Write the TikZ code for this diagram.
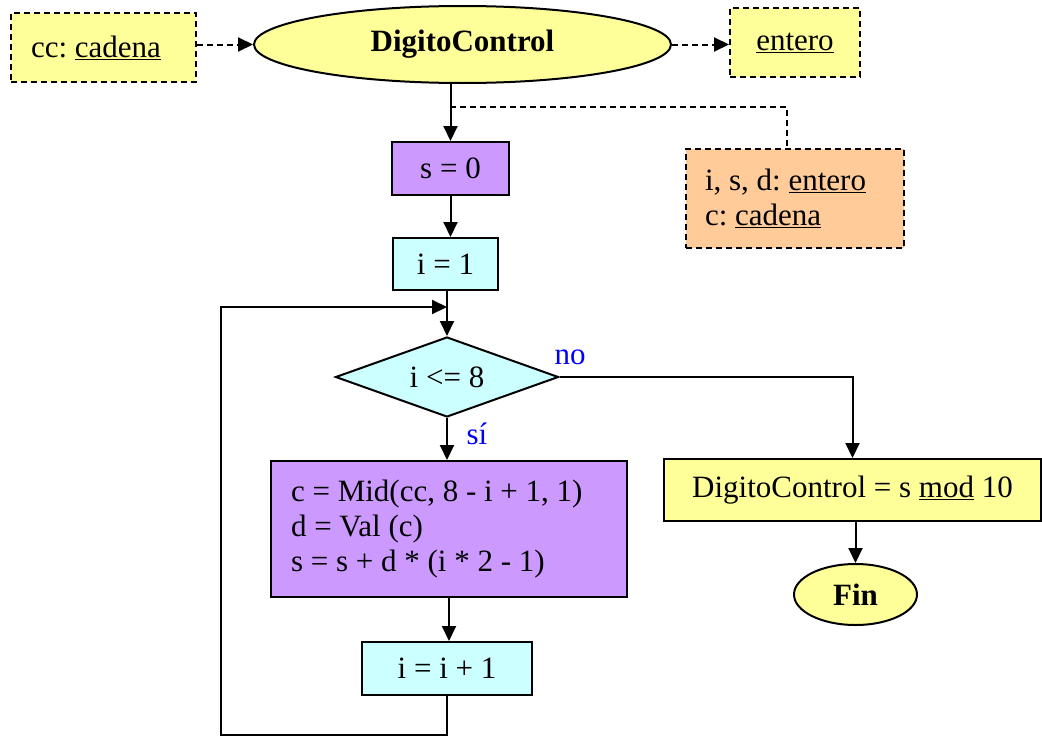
\documentclass[tikz,border=0pt]{standalone}
\usepackage{fontspec}
\setmainfont{Liberation Serif}
\usetikzlibrary{shapes.geometric,arrows.meta}
\definecolor{cyel}{HTML}{FFFF99}
\definecolor{cpur}{HTML}{CC99FF}
\definecolor{ccya}{HTML}{CCFFFF}
\definecolor{cora}{HTML}{FFCC99}
\definecolor{cblu}{HTML}{0000FF}
\newcommand{\natsp}{\spaceskip=0pt\xspaceskip=0pt\relax}
\tikzset{
  every node/.style={font=\fontsize{31}{35}\selectfont},
  base/.style={draw, line width=2pt, inner sep=0pt},
  procbox/.style={base, rectangle},
  dashbox/.style={base, rectangle, dash pattern=on 6pt off 4pt},
  term/.style={base, ellipse, fill=cyel, font=\fontsize{31}{35}\selectfont\bfseries},
  decis/.style={base, diamond, aspect=2.8, fill=ccya},
  flow/.style={line width=2pt, -{Triangle[length=15pt,width=14pt]}},
  dflow/.style={line width=2pt, dash pattern=on 6pt off 4pt, -{Triangle[length=15pt,width=14pt]}},
  dplain/.style={line width=2pt, dash pattern=on 6pt off 4pt},
  lbl/.style={text=cblu, anchor=base, inner sep=0pt},
}
\begin{document}
\frenchspacing
\begin{tikzpicture}[x=1pt,y=-1pt]
\useasboundingbox (0,0) rectangle (1042,736);
% nodes
\node[dashbox, fill=cyel, minimum width=185, minimum height=69, text width=145, inner xsep=20, align=left] (cc) at (103.5,47.5) {\natsp cc: \underline{cadena}};
\node[term, minimum width=417, minimum height=77] (dc) at (462.5,44.5) {DigitoControl};
\node[dashbox, fill=cyel, minimum width=130, minimum height=69] (ent) at (795,42.5) {\underline{entero}};
\node[dashbox, fill=cora, minimum width=218, minimum height=99, text width=180, inner xsep=19, align=left] (var) at (795,198.5) {\natsp i, s, d: \underline{entero}\\c: \underline{cadena}};
\node[procbox, fill=cpur, minimum width=117, minimum height=53] (s0) at (450.5,168.5) {s = 0};
\node[procbox, fill=ccya, minimum width=105, minimum height=52] (i1) at (445.5,264) {i = 1};
\node[decis, minimum width=223, minimum height=80] (dm) at (447,377) {i <= 8};
\node[procbox, fill=cpur, minimum width=356, minimum height=136, text width=316, inner xsep=20, align=left] (bb) at (449,529) {\natsp c = Mid(cc, 8 - i + 1, 1)\\d = Val (c)\\s = s + d * (i * 2 - 1)};
\node[procbox, fill=ccya, minimum width=170, minimum height=53] (ip1) at (447,668.5) {i = i + 1};
\node[procbox, fill=cyel, minimum width=377, minimum height=62] (dcb) at (852.5,490) {DigitoControl = s \underline{mod} 10};
\node[term, minimum width=123, minimum height=61] (fin) at (855.5,594.5) {Fin};
\node[lbl] (no) at (570,364) {no};
\node[lbl] (si) at (477,444) {sí};
\coordinate (dj) at (450,107);
\coordinate (lb) at (221,735);
\coordinate (lt) at (221,307);
\coordinate (jn) at (447,307);
% connectors
\draw[dflow] (cc.east |- dc.west) -- (dc.west);
\draw[dflow] (dc.east) -- (ent.west |- dc.east);
\draw[flow] (s0.north |- dc.south) -- (s0.north);
\draw[dplain] (dj) -| ([xshift=-8pt]var.north);
\draw[flow] (s0.south) -- (s0.south |- i1.north);
\draw[flow] (dm.north |- i1.south) -- (dm.north);
\draw[flow] (dm.south) -- (dm.south |- bb.north);
\draw[flow] (bb.south) -- (bb.south |- ip1.north);
\draw[flow] (ip1.south) |- (lb) -- (lt) -- (jn);
\draw[flow] (dm.east) -| (dcb.north);
\draw[flow] (fin.north |- dcb.south) -- (fin.north);
\end{tikzpicture}
\end{document}
